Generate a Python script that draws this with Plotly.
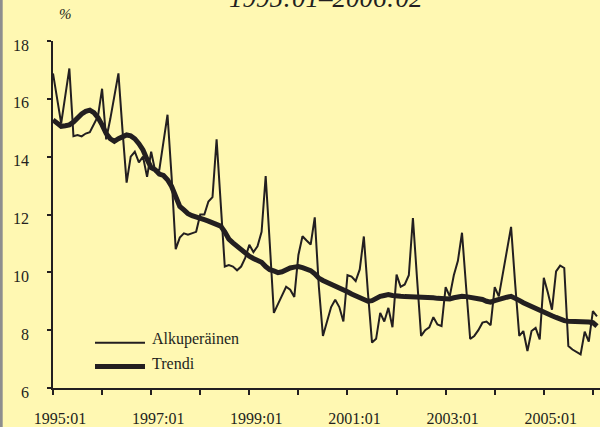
import plotly.graph_objects as go

# ---- data (monthly, 1995:01 .. 2006:02) ----
months = [f"{1995 + k // 12}:{k % 12 + 1:02d}" for k in range(134)]

alkuperainen = [
    16.88, 16.0, 15.15, 16.1, 17.05, 14.71, 14.75, 14.7, 14.8, 14.85, 15.1, 15.4,
    16.35, 14.6, 15.3, 16.1, 16.88, 14.9, 13.1, 14.0, 14.17, 13.8, 14.0, 13.3,
    14.17, 13.5, 13.55, 14.5, 15.45, 13.3, 10.8, 11.2, 11.35, 11.3, 11.35, 11.4,
    12.0, 12.0, 12.45, 12.6, 14.6, 12.5, 10.2, 10.25, 10.2, 10.07, 10.2, 10.5,
    10.95, 10.7, 10.9, 11.4, 13.33, 11.0, 8.6, 8.9, 9.2, 9.5, 9.4, 9.15,
    10.6, 11.25, 11.1, 10.96, 11.9, 9.5, 7.8, 8.3, 8.8, 9.05, 8.8, 8.3,
    9.9, 9.85, 9.7, 10.1, 11.24, 9.3, 7.57, 7.7, 8.6, 8.3, 8.77, 8.1,
    9.92, 9.5, 9.58, 9.9, 11.88, 9.8, 7.8, 8.0, 8.1, 8.45, 8.2, 8.14,
    9.49, 9.17, 9.9, 10.4, 11.37, 9.5, 7.7, 7.8, 8.0, 8.26, 8.3, 8.17,
    9.49, 9.17, 10.0, 10.7, 11.57, 9.6, 7.8, 7.97, 7.28, 7.97, 8.08, 7.68,
    9.81, 9.29, 8.71, 10.03, 10.23, 10.15, 7.45, 7.33, 7.25, 7.16, 7.95, 7.6,
    8.66, 8.48,
]

trendi = [
    15.27, 15.15, 15.05, 15.07, 15.1, 15.2, 15.35, 15.48, 15.57, 15.61, 15.52, 15.35,
    15.1, 14.8, 14.62, 14.53, 14.62, 14.7, 14.75, 14.72, 14.62, 14.45, 14.23, 13.9,
    13.62, 13.55, 13.4, 13.35, 13.2, 12.97, 12.6, 12.28, 12.16, 12.03, 11.96, 11.9,
    11.88, 11.82, 11.77, 11.72, 11.66, 11.6, 11.4, 11.15, 11.02, 10.9, 10.8, 10.68,
    10.56, 10.48, 10.42, 10.35, 10.2, 10.09, 10.05, 9.99, 10.02, 10.1, 10.15, 10.18,
    10.2, 10.16, 10.1, 10.06, 9.95, 9.8, 9.72, 9.66, 9.6, 9.55, 9.48, 9.4,
    9.33, 9.25, 9.18, 9.1, 9.05, 9.0, 9.02, 9.1, 9.17, 9.2, 9.23, 9.2,
    9.17, 9.17, 9.16, 9.16, 9.15, 9.15, 9.14, 9.13, 9.12, 9.12, 9.1, 9.08,
    9.07, 9.08, 9.12, 9.16, 9.17, 9.16, 9.14, 9.12, 9.1, 9.06, 9.0, 8.97,
    9.02, 9.07, 9.1, 9.14, 9.17, 9.12, 9.03, 8.95, 8.88, 8.82, 8.76, 8.71,
    8.64, 8.57, 8.5, 8.44, 8.38, 8.33, 8.31, 8.31, 8.31, 8.31, 8.3, 8.28,
    8.26, 8.14,
]

y_ticks = [6, 8, 10, 12, 14, 16, 18]
x_label_idx = [0, 24, 48, 72, 96, 120]
x_labels = [months[k] for k in x_label_idx]
year_idx = list(range(0, 134, 12))

title_text = "1995:01\u20132006:02"
legend_names = ["Alkuperäinen", "Trendi"]

# ---- style ----
BG = "rgb(255,248,178)"
INK = "#231f20"
FONT = "Liberation Serif"

idx = list(range(len(months)))

fig = go.Figure()
fig.add_trace(go.Scatter(x=idx, y=alkuperainen, mode="lines", name=legend_names[0],
                         line=dict(color=INK, width=2), showlegend=False,
                         customdata=months, hovertemplate="%{customdata}: %{y}<extra></extra>"))
fig.add_trace(go.Scatter(x=idx, y=trendi, mode="lines", name=legend_names[1],
                         line=dict(color=INK, width=5), showlegend=False,
                         customdata=months, hovertemplate="%{customdata}: %{y}<extra></extra>"))

L, T, B = 53, 41, 39
W, H = 600, 427
pw = W - L
ph = H - T - B
month_px = 4.09


def px_x(px):
    return (px - L) / pw


def px_y(py):
    return (H - B - py) / ph


fig.update_layout(
    width=W, height=H,
    margin=dict(l=L, r=0, t=T, b=B, pad=0, autoexpand=False),
    paper_bgcolor=BG, plot_bgcolor=BG,
    font=dict(family=FONT, size=16, color=INK),
    xaxis=dict(
        range=[0, pw / month_px],
        automargin=False,
        showgrid=False, zeroline=False,
        showline=True, linecolor=INK, linewidth=1.5,
        tickmode="array", tickvals=x_label_idx, ticktext=x_labels,
        ticks="outside", ticklen=5, tickwidth=1.5, tickcolor=INK,
        ticklabelshift=7, ticklabelstandoff=10,
        minor=dict(tickmode="array", tickvals=year_idx, ticks="outside",
                   ticklen=5, tickwidth=1.5, tickcolor=INK),
        tickfont=dict(family=FONT, size=16, color=INK),
    ),
    yaxis=dict(
        range=[6, 18],
        automargin=False,
        showgrid=False, zeroline=False,
        showline=True, linecolor=INK, linewidth=1.5,
        tickmode="array", tickvals=y_ticks,
        ticks="outside", ticklen=4, tickwidth=1.5, tickcolor=INK,
        ticklabelshift=4, ticklabelstandoff=15,
        tickfont=dict(family=FONT, size=16, color=INK),
    ),
)

# title (cut at top as in the reference)
fig.add_annotation(text=title_text, xref="paper", yref="paper",
                   x=px_x(325), y=px_y(15), xanchor="center", yanchor="bottom",
                   showarrow=False,
                   font=dict(family=FONT, size=27, color=INK, style="italic"))
# unit label
fig.add_annotation(text="%", xref="paper", yref="paper",
                   x=px_x(65), y=px_y(14), xanchor="center", yanchor="middle",
                   showarrow=False,
                   font=dict(family=FONT, size=15, color=INK, style="italic"))

# manual legend
leg = [(legend_names[0], 342.7, 2, 338.5), (legend_names[1], 366.5, 5, 363.5)]
for name, ly, lw, ty in leg:
    fig.add_shape(type="line", xref="paper", yref="paper",
                  x0=px_x(95), x1=px_x(145), y0=px_y(ly), y1=px_y(ly),
                  line=dict(color=INK, width=lw))
    fig.add_annotation(text=name, xref="paper", yref="paper",
                       x=px_x(150), y=px_y(ty), xanchor="left", yanchor="middle",
                       showarrow=False, font=dict(family=FONT, size=16, color=INK))

# grey frame edge at left
fig.add_shape(type="rect", xref="paper", yref="paper",
              x0=px_x(0), x1=px_x(2.7), y0=px_y(H + 5), y1=px_y(-5),
              line=dict(width=0), fillcolor="#8e8e8e", layer="above")

fig.write_html(
    "out.html",
    config={"displayModeBar": False},
    post_script="document.body.style.margin='0';document.body.style.padding='0';"
                "document.documentElement.style.overflow='hidden';",
)
